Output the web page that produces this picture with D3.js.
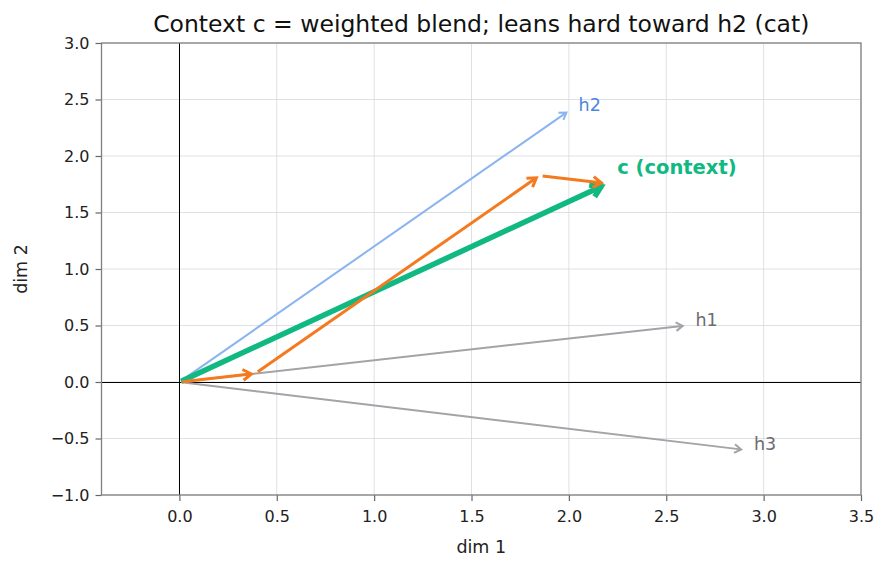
<!DOCTYPE html>
<html>
<head>
<meta charset="utf-8">
<script src="https://cdn.jsdelivr.net/npm/d3@7"></script>
<style>
  body { margin: 0; background: #fff; }
  svg { font-family: "DejaVu Sans", sans-serif; }
</style>
</head>
<body>
<div id="canvas"></div>
<script>
var width = 890
var height = 569
var margin = { top: 43, right: 29, bottom: 74, left: 101.5 }

// hidden states (dim 1, dim 2)
var hNames = ["h1", "h2", "h3"]
var hX = [2.6, 2.0, 2.9]
var hY = [0.5, 2.4, -0.6]
var hColors = ["#a3a3a8", "#8ab4f0", "#a3a3a8"]
var hLabelColors = ["#6b6b70", "#4a86e0", "#6b6b70"]

// attention weights
var weights = [0.15, 0.73, 0.12]

var xTicks = [0.0, 0.5, 1.0, 1.5, 2.0, 2.5, 3.0, 3.5]
var yTicks = [-1.0, -0.5, 0.0, 0.5, 1.0, 1.5, 2.0, 2.5, 3.0]

var svg = d3.select("#canvas")
    .append("svg")
    .attr("width", width)
    .attr("height", height)

var xScale = d3.scaleLinear().domain([-0.4, 3.5]).range([margin.left, width - margin.right])
var yScale = d3.scaleLinear().domain([-1, 3]).range([height - margin.bottom, margin.top])

// grid
svg.append("g").selectAll("line")
    .data(xTicks)
    .enter().append("line")
    .attr("x1", d => xScale(d)).attr("x2", d => xScale(d))
    .attr("y1", yScale(-1)).attr("y2", yScale(3))
    .attr("stroke", "#d5d8dc").attr("stroke-width", 0.8)
svg.append("g").selectAll("line")
    .data(yTicks)
    .enter().append("line")
    .attr("y1", d => yScale(d)).attr("y2", d => yScale(d))
    .attr("x1", xScale(-0.4)).attr("x2", xScale(3.5))
    .attr("stroke", "#d5d8dc").attr("stroke-width", 0.8)

// axes
var xAxis = svg.append("g")
    .attr("transform", `translate(0,${height - margin.bottom})`)
    .call(d3.axisBottom(xScale).tickValues(xTicks).tickFormat(d3.format(".1f")).tickSize(6).tickSizeOuter(0))
var yAxis = svg.append("g")
    .attr("transform", `translate(${margin.left},0)`)
    .call(d3.axisLeft(yScale).tickValues(yTicks).tickFormat(d => d3.format(".1f")(d).replace("-", "\u2212")).tickSize(6).tickSizeOuter(0))

svg.selectAll(".tick text").attr("font-size", 16).attr("fill", "#222").attr("font-family", "DejaVu Sans")
svg.selectAll(".tick line").attr("stroke", "#666").attr("stroke-width", 1.2)
xAxis.selectAll(".tick text").attr("dy", "0.71em").attr("y", 16)
yAxis.selectAll(".tick text").attr("x", -12)
svg.selectAll(".domain").remove()

// zero lines
svg.append("line")
    .attr("x1", Math.round(xScale(0)) + 0.5).attr("x2", Math.round(xScale(0)) + 0.5)
    .attr("y1", yScale(-1)).attr("y2", yScale(3))
    .attr("stroke", "#000").attr("stroke-width", 1)
svg.append("line")
    .attr("y1", Math.round(yScale(0)) + 0.5).attr("y2", Math.round(yScale(0)) + 0.5)
    .attr("x1", xScale(-0.4)).attr("x2", xScale(3.5))
    .attr("stroke", "#000").attr("stroke-width", 1)

// frame
svg.append("rect")
    .attr("x", xScale(-0.4)).attr("y", yScale(3))
    .attr("width", xScale(3.5) - xScale(-0.4))
    .attr("height", yScale(-1) - yScale(3))
    .attr("fill", "none").attr("stroke", "#808080").attr("stroke-width", 1.3)

// arrow helper: line plus open chevron head
function arrow(x0, y0, x1, y1, color, w, head, shrinkA, shrinkB) {
    var px0 = xScale(x0), py0 = yScale(y0), px1 = xScale(x1), py1 = yScale(y1)
    var dx = px1 - px0, dy = py1 - py0, len = Math.sqrt(dx * dx + dy * dy)
    var ux = dx / len, uy = dy / len
    px0 += ux * shrinkA; py0 += uy * shrinkA
    px1 -= ux * shrinkB; py1 -= uy * shrinkB
    var g = svg.append("g")
    g.append("line")
        .attr("x1", px0).attr("y1", py0).attr("x2", px1 - ux * w * 0.3).attr("y2", py1 - uy * w * 0.3)
        .attr("stroke", color).attr("stroke-width", w)
    var a = Math.PI / 5.5
    var bx = -ux, by = -uy
    var l1x = px1 + head * (bx * Math.cos(a) - by * Math.sin(a))
    var l1y = py1 + head * (bx * Math.sin(a) + by * Math.cos(a))
    var l2x = px1 + head * (bx * Math.cos(-a) - by * Math.sin(-a))
    var l2y = py1 + head * (bx * Math.sin(-a) + by * Math.cos(-a))
    g.append("path")
        .attr("d", `M${l1x},${l1y}L${px1},${py1}L${l2x},${l2y}`)
        .attr("fill", "none").attr("stroke", color).attr("stroke-width", w)
        .attr("stroke-linejoin", "miter").attr("stroke-linecap", "butt")
}

// h vectors
hNames.forEach(function (n, i) {
    arrow(0, 0, hX[i], hY[i], hColors[i], 2, 8, 2, 3)
    svg.append("text")
        .attr("x", xScale(hX[i] + 0.05)).attr("y", yScale(hY[i] + 0.05))
        .attr("dy", "0.35em")
        .attr("font-size", 17.5).attr("fill", hLabelColors[i])
        .text(n)
})

// context vector
var cx = d3.sum(hX, (d, i) => d * weights[i])
var cy = d3.sum(hY, (d, i) => d * weights[i])
arrow(0, 0, cx, cy, "#10b981", 5.5, 12, 2, 7)

// weighted pieces chained head to tail
var sx = 0, sy = 0
hX.forEach(function (d, i) {
    var ex = sx + weights[i] * hX[i], ey = sy + weights[i] * hY[i]
    arrow(sx, sy, ex, ey, "#f47a1f", 3, 10, 3, i == 2 ? 6 : 4)
    sx = ex; sy = ey
})

svg.append("text")
    .attr("x", xScale(cx + 0.05)).attr("y", yScale(cy + 0.15))
    .attr("dy", "0.35em")
    .attr("font-size", 19.5).attr("font-weight", "bold").attr("fill", "#10b981")
    .text("c (context)")

// titles
svg.append("text")
    .attr("x", (xScale(-0.4) + xScale(3.5)) / 2).attr("y", 32)
    .attr("text-anchor", "middle").attr("font-size", 23.5).attr("fill", "#111")
    .text("Context c = weighted blend; leans hard toward h2 (cat)")
svg.append("text")
    .attr("x", (xScale(-0.4) + xScale(3.5)) / 2).attr("y", 553)
    .attr("text-anchor", "middle").attr("font-size", 17.5).attr("fill", "#222")
    .text("dim 1")
svg.append("text")
    .attr("transform", `translate(27,${(yScale(-1) + yScale(3)) / 2}) rotate(-90)`)
    .attr("text-anchor", "middle").attr("font-size", 17.5).attr("fill", "#222")
    .text("dim 2")
</script>
</body>
</html>
